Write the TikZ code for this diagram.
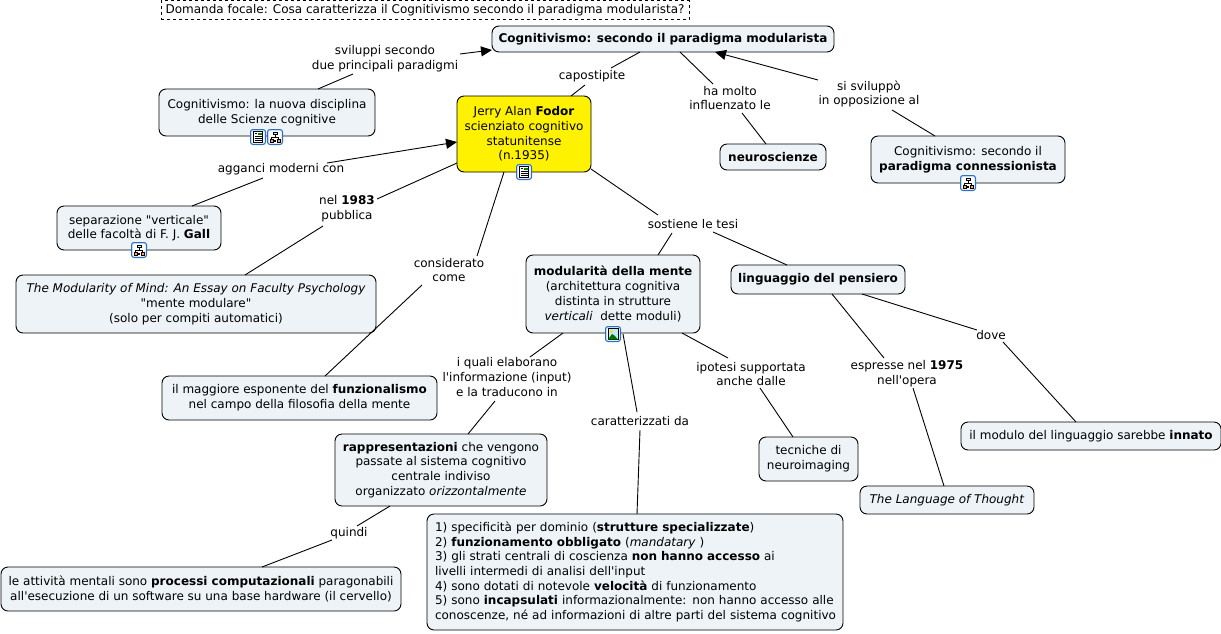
\documentclass[tikz,border=0pt]{standalone}
\usepackage{fontspec}
\defaultfontfeatures[\rmfamily]{}
\setmainfont{DejaVu Sans}
\usetikzlibrary{arrows.meta}
\definecolor{boxfill}{HTML}{EDF3F6}
\definecolor{icoblue}{HTML}{2F6FC0}
\definecolor{icopale}{HTML}{DCEBFA}
\newcommand{\lk}[6]{\draw[conn] ([shift={(#2,#3)}]#1.center) -- ([shift={(#5,#6)}]#4.center);}
\newcommand{\lka}[6]{\draw[conn,-{Triangle[length=11pt,width=10pt]}] ([shift={(#2,#3)}]#1.center) -- ([shift={(#5,#6)}]#4.center);}
\tikzset{
  every node/.style={font=\fontsize{12}{14.7}\selectfont,align=center,text=black,inner sep=0pt},
  cbox/.style={draw=black,line width=0.9pt,rounded corners=7pt,fill=boxfill},
  lab/.style={},
  conn/.style={draw=black,line width=0.9pt},
  pics/icobase/.style={code={
    \draw[icoblue,line width=1pt,fill=icopale,rounded corners=2.5pt] (-7.5,-7.5) rectangle (7.5,7.5);
    \draw[white,line width=0.6pt,fill=white,rounded corners=1pt] (-5.5,-5.5) rectangle (5.5,5.5);
  }},
  pics/icodoc/.style={code={
    \pic {icobase};
    \draw[black,line width=0.6pt,fill=white] (-4.5,-5.5) rectangle (4.5,5.5);
    \foreach \yy in {-1,1,3}{\draw[black,line width=0.7pt] (-3.5,\yy) -- (3.5,\yy);}
    \fill[green!50!black] (0,-4.5) rectangle (3.8,-1.8);
    \fill[black] (-3.5,-4.5) rectangle (-0.8,-3.7);
  }},
  pics/icomap/.style={code={
    \pic {icobase};
    \draw[black,line width=0.6pt] (0,-3) -- (0,0) (-3.5,3) -- (-3.5,0) -- (3.5,0) -- (3.5,3);
    \draw[black,line width=0.6pt,fill=icopale] (-2,-5) rectangle (2,-2.4);
    \draw[black,line width=0.6pt,fill=orange!70!white] (-5,2.4) rectangle (-2,5);
    \draw[black,line width=0.6pt,fill=orange!70!white] (2,2.4) rectangle (5,5);
    \fill[black] (-1,2.5) rectangle (1,5);
  }},
  pics/icoimg/.style={code={
    \pic {icobase};
    \draw[black,line width=0.5pt,fill=cyan!25!white] (-5,-5.5) rectangle (5,5.5);
    \fill[yellow!80!orange] (-1.5,-2.5) circle (1.6);
    \fill[green!45!black] (-5,5.5) -- (-1,0) -- (1.5,1.5) -- (5,5.5) -- cycle;
  }},
}
\begin{document}
\begin{tikzpicture}[x=1pt,y=-1pt]
\useasboundingbox (0,0) rectangle (1221,633);
\node[draw=black,dashed,line width=0.8pt,minimum width=528pt,minimum height=19pt] (focal) at (425,10) {Domanda focale: Cosa caratterizza il Cognitivismo secondo il paradigma modularista?};
% concepts
\node[cbox,minimum width=342pt,minimum height=26pt] (cogn) at (663,39) {\textbf{Cognitivismo: secondo il paradigma modularista}};
\node[cbox,minimum width=216pt,minimum height=47pt] (nuova) at (267,112.5) {Cognitivismo: la nuova disciplina\\delle Scienze cognitive};
\node[cbox,fill=yellow,minimum width=134pt,minimum height=76pt] (fodor) at (524,134) {Jerry Alan \textbf{Fodor}\\scienziato cognitivo\\statunitense\\(n.1935)};
\node[cbox,minimum width=106pt,minimum height=26pt] (neuro) at (773,157) {\textbf{neuroscienze}};
\node[cbox,minimum width=194pt,minimum height=47pt] (connes) at (968,159.5) {Cognitivismo: secondo il\\\textbf{paradigma connessionista}};
\node[cbox,minimum width=164pt,minimum height=44pt] (gall) at (139,228) {separazione "verticale"\\delle facoltà di F. J. \textbf{Gall}};
\node[cbox,minimum width=360pt,minimum height=58pt] (modmind) at (196,304) {\textit{The Modularity of Mind: An Essay on Faculty Psychology}\\"mente modulare"\\(solo per compiti automatici)};
\node[cbox,minimum width=275pt,minimum height=44pt] (funz) at (299.5,398) {il maggiore esponente del \textbf{funzionalismo}\\nel campo della filosofia della mente};
\node[cbox,minimum width=174pt,minimum height=78pt] (modul) at (613,294) {\textbf{modularità della mente}\\(architettura cognitiva\\distinta in strutture\\\textit{verticali}\ \ dette moduli)};
\node[cbox,minimum width=174pt,minimum height=29pt] (ling) at (818,279.5) {\textbf{linguaggio del pensiero}};
\node[cbox,minimum width=212pt,minimum height=72pt] (rapp) at (441,470) {\textbf{rappresentazioni} che vengono\\passate al sistema cognitivo\\centrale indiviso\\organizzato \textit{orizzontalmente}};
\node[cbox,minimum width=99pt,minimum height=44pt] (neuroim) at (808.5,459) {tecniche di\\neuroimaging};
\node[cbox,minimum width=260pt,minimum height=28pt] (innato) at (1091,436) {il modulo del linguaggio sarebbe \textbf{innato}};
\node[cbox,minimum width=174pt,minimum height=28pt] (lang) at (947,500) {\textit{The Language of Thought}};
\node[cbox,minimum width=416pt,minimum height=116pt,align=left,text width=400pt] (list) at (635,572) {1) specificità per dominio (\textbf{strutture specializzate})\\2) \textbf{funzionamento obbligato} (\textit{mandatary} )\\3) gli strati centrali di coscienza \textbf{non hanno accesso} ai\\livelli intermedi di analisi dell'input\\4) sono dotati di notevole \textbf{velocità} di funzionamento\\\mbox{5) sono \textbf{incapsulati} informazionalmente: non hanno accesso alle}\\\mbox{conoscenze, né ad informazioni di altre parti del sistema cognitivo}};
\node[cbox,minimum width=400pt,minimum height=44pt] (attiv) at (201,589) {le attività mentali sono \textbf{processi computazionali} paragonabili\\all'esecuzione di un software su una base hardware (il cervello)};
% linking phrases
\node[lab] (svil) at (385,59) {sviluppi secondo\\due principali paradigmi};
\node[lab] (cap) at (592,76) {capostipite};
\node[lab] (ha) at (730,98) {ha molto\\influenzato le};
\node[lab] (si) at (869,94) {si sviluppò\\in opposizione al};
\node[lab] (agg) at (281,169) {agganci moderni con};
\node[lab] (nel) at (347,209) {nel \textbf{1983}\\pubblica};
\node[lab] (cons) at (449,270) {considerato\\come};
\node[lab] (sost) at (693,224) {sostiene le tesi};
\node[lab] (iali) at (507,377) {i quali elaborano\\l'informazione (input)\\e la traducono in};
\node[lab] (carat) at (640,421) {caratterizzati da};
\node[lab] (ipo) at (751,374) {ipotesi supportata\\anche dalle};
\node[lab] (esp) at (907,374) {espresse nel \textbf{1975}\\nell'opera};
\node[lab] (dove) at (991,335) {dove};
\node[lab] (quindi) at (349,533) {quindi};
% connectors
\lk{nuova}{51}{-23.5}{svil}{-32}{15}
\lka{svil}{75}{-5}{cogn}{-171}{11}
\lk{fodor}{47}{-38}{cap}{-7}{9}
\lk{cap}{19}{-8}{cogn}{-23}{13}
\lk{cogn}{17}{13}{ha}{-17}{-14}
\lk{ha}{12}{15}{neuro}{-7}{-13}
\lk{connes}{-33}{-23.5}{si}{23}{16}
\lka{si}{-51}{-14}{cogn}{52}{13}
\lk{gall}{53}{-22}{agg}{-18}{9}
\lka{agg}{46}{-6}{fodor}{-67}{8}
\lk{modmind}{49}{-29}{nel}{-24}{17}
\lk{nel}{30}{-10}{fodor}{-67}{29}
\lk{funz}{25.5}{-22}{cons}{-27}{15}
\lk{cons}{28}{-14}{fodor}{-20}{38}
\lk{fodor}{67}{35}{sost}{-35}{-9}
\lk{sost}{-21}{9}{modul}{45}{-39}
\lk{sost}{20}{8}{ling}{-31}{-14.5}
\lk{modul}{-50}{39}{iali}{23}{-20}
\lk{iali}{-12}{24}{rapp}{27}{-36}
\lk{modul}{10}{40}{carat}{-3}{-9}
\lk{carat}{0}{9}{list}{2}{-58}
\lk{modul}{69}{39}{ipo}{-23}{-16}
\lk{ipo}{9}{14}{neuroim}{-15.5}{-22}
\lk{ling}{14}{14.5}{esp}{-23}{-16}
\lk{esp}{6}{14}{lang}{-3}{-14}
\lk{ling}{44}{14.5}{dove}{-14}{-5}
\lk{dove}{12}{7}{innato}{-15}{-14}
\lk{rapp}{-51}{36}{quindi}{8}{-7}
\lk{quindi}{-17}{7}{attiv}{61}{-22}
% icons
\pic at (258,137) {icodoc};
\pic at (275,137) {icomap};
\pic at (524,172) {icodoc};
\pic at (139,250) {icomap};
\pic at (968,183) {icomap};
\pic at (613,334) {icoimg};
\end{tikzpicture}
\end{document}
